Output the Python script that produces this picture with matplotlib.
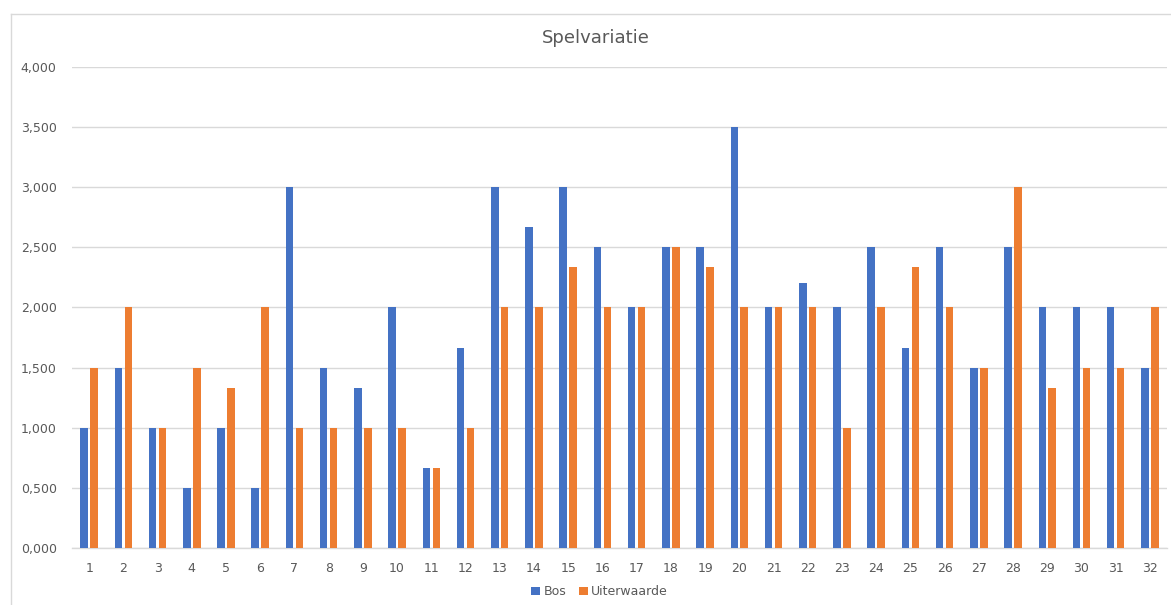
import matplotlib.pyplot as plt
import numpy as np
from matplotlib.lines import Line2D
from matplotlib.ticker import FuncFormatter

# spelvariatie per meetpunt, twee locaties
rondes = list(range(1, 33))
bos = [1.0, 1.5, 1.0, 0.5, 1.0, 0.5, 3.0, 1.5, 1.333, 2.0, 0.667, 1.667, 3.0, 2.667, 3.0, 2.5,
       2.0, 2.5, 2.5, 3.5, 2.0, 2.2, 2.0, 2.5, 1.667, 2.5, 1.5, 2.5, 2.0, 2.0, 2.0, 1.5]
uiterwaarde = [1.5, 2.0, 1.0, 1.5, 1.333, 2.0, 1.0, 1.0, 1.0, 1.0, 0.667, 1.0, 2.0, 2.0, 2.333, 2.0,
               2.0, 2.5, 2.333, 2.0, 2.0, 2.0, 1.0, 2.0, 2.333, 2.0, 1.5, 3.0, 1.333, 1.5, 1.5, 2.0]
y_ticks = [0, 0.5, 1.0, 1.5, 2.0, 2.5, 3.0, 3.5, 4.0]

blue = '#4472C4'
orange = '#ED7D31'
grid_col = '#D9D9D9'
text_col = '#595959'

if __name__ == '__main__':
    fig = plt.figure(figsize=(11.71, 6.05), dpi=100)
    ax = fig.add_axes([0.0615, 0.0937, 0.9351, 0.7961])

    x = np.arange(len(rondes))
    w = 0.22
    ax.bar(x - 0.145, bos, width=w, color=blue, label='Bos', zorder=3)
    ax.bar(x + 0.145, uiterwaarde, width=w, color=orange, label='Uiterwaarde', zorder=3)

    ax.set_xlim(-0.5, len(rondes) - 0.5)
    ax.set_ylim(0, 4.0)
    ax.set_yticks(y_ticks)
    ax.yaxis.set_major_formatter(FuncFormatter(lambda v, p: f'{v:.3f}'.replace('.', ',')))
    ax.set_xticks(x)
    ax.set_xticklabels([str(r) for r in rondes])

    ax.grid(axis='y', color=grid_col, linewidth=1, zorder=0)
    for s in ['top', 'right', 'left']:
        ax.spines[s].set_visible(False)
    ax.spines['bottom'].set_color(grid_col)
    ax.spines['bottom'].set_linewidth(1)
    ax.tick_params(axis='both', length=0, colors=text_col, labelsize=9)
    ax.tick_params(axis='y', pad=11)
    ax.tick_params(axis='x', pad=10)

    fig.text(0.509, 0.937, 'Spelvariatie', ha='center', va='center', fontsize=13, color=text_col)

    fig.legend(loc='center', bbox_to_anchor=(0.512, 0.0215), ncol=2, frameon=False,
               fontsize=9, labelcolor=text_col, handlelength=0.7, handleheight=0.7,
               handletextpad=0.3, columnspacing=1.0)

    # kader rond de grafiek
    fx0 = 11 / 1171
    fy0 = 1 - 14 / 605
    fig.add_artist(Line2D([fx0, 1.0], [fy0, fy0], transform=fig.transFigure, color=grid_col, linewidth=1))
    fig.add_artist(Line2D([fx0, fx0], [0.0, fy0], transform=fig.transFigure, color=grid_col, linewidth=1))

    plt.savefig('out.png', dpi=100)
